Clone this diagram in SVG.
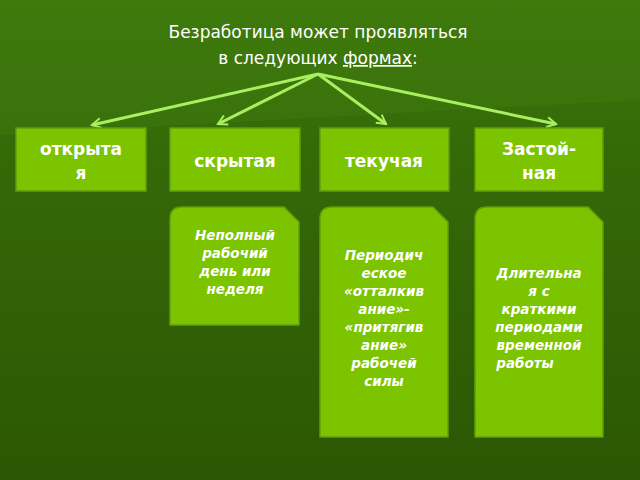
<svg xmlns="http://www.w3.org/2000/svg" width="640" height="480" viewBox="0 0 640 480">
<defs>
<linearGradient id="bg" x1="0" y1="0" x2="0" y2="1">
<stop offset="0" stop-color="#3f7a0c"/><stop offset="0.3" stop-color="#356a08"/><stop offset="1" stop-color="#2c5704"/>
</linearGradient>
<marker id="ah" viewBox="0 0 12 12" refX="10" refY="6" markerWidth="12" markerHeight="12" markerUnits="userSpaceOnUse" orient="auto">
<path d="M1,1 L10,6 L1,11" fill="none" stroke="#a8f060" stroke-width="2"/>
</marker>
<style>
.top{fill:#7cc400;stroke:#5f9e0a;stroke-width:1.5}
.bt{font-family:"DejaVu Sans",sans-serif;font-weight:bold;font-size:17px;fill:#fff;text-anchor:middle}
.it{font-family:"DejaVu Sans",sans-serif;font-weight:bold;font-style:italic;font-size:13.5px;fill:#fff;text-anchor:middle}
.ar{stroke:#a8f060;stroke-width:3;fill:none;marker-end:url(#ah)}
</style>
</defs>
<rect width="640" height="480" fill="url(#bg)"/>
<path d="M0,135 L640,100 L640,0 L0,0Z" fill="#3e7a0e" opacity="0.5"/>
<g id="title" font-family="DejaVu Sans, sans-serif" font-size="17" fill="#fff" text-anchor="middle">
<text x="318" y="38">Безработица может проявляться</text>
<text x="318" y="64">в следующих <tspan text-decoration="underline">формах</tspan>:</text>
</g>
<g id="connectors">
<line class="ar" x1="318" y1="74" x2="92" y2="125"/>
<line class="ar" x1="318" y1="74" x2="218" y2="124"/>
<line class="ar" x1="318" y1="74" x2="386" y2="124"/>
<line class="ar" x1="318" y1="74" x2="556" y2="124"/>
</g>
<g id="n1"><rect class="top" x="16" y="128" width="130" height="63"/><text class="bt" x="81" y="155">открыта</text><text class="bt" x="81" y="179">я</text></g>
<g id="n2"><rect class="top" x="170" y="128" width="130" height="63"/><text class="bt" x="235" y="167">скрытая</text></g>
<g id="n3"><rect class="top" x="320" y="128" width="129" height="63"/><text class="bt" x="384" y="167">текучая</text></g>
<g id="n4"><rect class="top" x="475" y="128" width="128" height="63"/><text class="bt" x="539" y="155">Застой-</text><text class="bt" x="539" y="179">ная</text></g>
<g id="n5"><path class="top" d="M182,207 H284 L299,222 V325 H170 V219 Q170,207 182,207Z"/>
<text class="it" x="235" y="240">Неполный</text><text class="it" x="235" y="258">рабочий</text><text class="it" x="235" y="276">день или</text><text class="it" x="235" y="294">неделя</text></g>
<g id="n6"><path class="top" d="M332,207 H433 L448,222 V437 H320 V219 Q320,207 332,207Z"/>
<text class="it" x="384" y="260">Периодич</text><text class="it" x="384" y="278">еское</text><text class="it" x="384" y="296">«отталкив</text><text class="it" x="384" y="314">ание»-</text><text class="it" x="384" y="332">«притягив</text><text class="it" x="384" y="350">ание»</text><text class="it" x="384" y="368">рабочей</text><text class="it" x="384" y="386">силы</text></g>
<g id="n7"><path class="top" d="M487,207 H588 L603,222 V437 H475 V219 Q475,207 487,207Z"/>
<text class="it" x="539" y="278">Длительна</text><text class="it" x="539" y="296">я с</text><text class="it" x="539" y="314">краткими</text><text class="it" x="539" y="332">периодами</text><text class="it" x="539" y="350">временной</text><text class="it" x="525" y="368">работы</text></g>
</svg>
